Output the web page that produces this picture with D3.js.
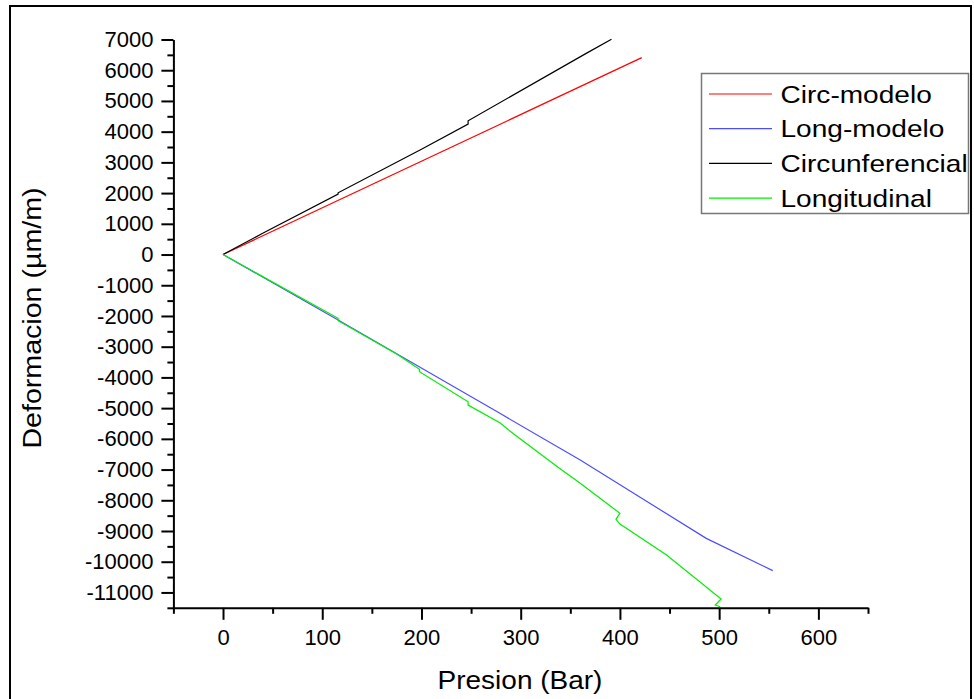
<!DOCTYPE html>
<html>
<head>
<meta charset="utf-8">
<script src="https://cdn.jsdelivr.net/npm/d3@7"></script>
<style>
  body { margin: 0; background: #fff; }
  svg { display: block; font-family: "Liberation Sans", Arial, sans-serif; }
</style>
</head>
<body>
<svg id="chart" width="974" height="699"></svg>
<script>
// Data (pressure in Bar, strain in µm/m)
const circModeloP = [0, 422]
const circModeloD = [0, 6410]

const longModeloP = [0, 116, 279, 360, 487, 554]
const longModeloD = [0, -2130, -5170, -6690, -9240, -10290]

const circunfP = [0, 40, 116, 116, 200, 247, 247, 366, 391.5]
const circunfD = [0, 690, 1969, 2010, 3425, 4248, 4355, 6549, 7005]

const longitP = [0, 116, 116, 175, 198, 198, 247, 247, 279, 292, 339, 360, 400, 396, 400, 408, 447, 502, 496, 501]
const longitD = [0, -2077, -2155, -3239, -3737, -3815, -4792, -4899, -5475, -5820, -6960, -7448, -8424, -8620, -8773, -8945, -9782, -11214, -11410, -11465]

const seriesNames = ['Circ-modelo', 'Long-modelo', 'Circunferencial', 'Longitudinal']
const seriesColors = ['#ff0000', '#4d4dff', '#000000', '#00ee00']

const xMajorTicks = d3.range(0, 601, 100)
const xMinorTicks = d3.range(-50, 651, 100)
const yMajorTicks = d3.range(-11000, 7001, 1000)
const yMinorTicks = d3.range(-11500, 6501, 1000)

const series = [
  { p: circModeloP, d: circModeloD },
  { p: longModeloP, d: longModeloD },
  { p: circunfP, d: circunfD },
  { p: longitP, d: longitD }
].map((s, i) => ({
  name: seriesNames[i],
  color: seriesColors[i],
  points: s.p.map((v, j) => [v, s.d[j]])
}))

const svg = d3.select('#chart')

// outer frame
svg.append('rect')
  .attr('x', 10).attr('y', 6)
  .attr('width', 961).attr('height', 700)
  .attr('fill', 'none').attr('stroke', '#000').attr('stroke-width', 2)

const x = d3.scaleLinear().domain([-50, 650]).range([173.4, 868])
const y = d3.scaleLinear().domain([-11500, 7000]).range([607.8, 39.5])

// plain hyphen for negatives, like the original
const fmt = d => String(d)

// minor ticks
svg.append('g')
  .attr('transform', `translate(0,${y.range()[0]})`)
  .call(d3.axisBottom(x).tickValues(xMinorTicks).tickSize(6).tickSizeOuter(0).tickFormat(''))
  .call(g => g.select('.domain').remove())
svg.append('g')
  .attr('transform', `translate(${x.range()[0]},0)`)
  .call(d3.axisLeft(y).tickValues(yMinorTicks).tickSize(6).tickSizeOuter(0).tickFormat(''))
  .call(g => g.select('.domain').remove())

// major ticks + labels
svg.append('g')
  .attr('transform', `translate(0,${y.range()[0]})`)
  .call(d3.axisBottom(x).tickValues(xMajorTicks).tickSize(12).tickSizeOuter(0).tickPadding(10).tickFormat(fmt))
svg.append('g')
  .attr('transform', `translate(${x.range()[0]},0)`)
  .call(d3.axisLeft(y).tickValues(yMajorTicks).tickSize(12).tickSizeOuter(0).tickPadding(8).tickFormat(fmt))

svg.selectAll('.tick line').attr('stroke', '#000').attr('stroke-width', 2)
svg.selectAll('.domain').attr('stroke', '#000').attr('stroke-width', 2)
svg.selectAll('.tick text')
  .attr('font-family', '"Liberation Sans", Arial, sans-serif')
  .attr('font-size', 22)
  .attr('fill', '#000')

// lines
const line = d3.line().x(d => x(d[0])).y(d => y(d[1]))
svg.append('g').selectAll('path')
  .data(series)
  .enter()
  .append('path')
  .attr('d', d => line(d.points))
  .attr('fill', 'none')
  .attr('stroke', d => d.color)
  .attr('stroke-width', 1.2)

// axis titles
svg.append('text')
  .attr('transform', 'translate(520,689) scale(1.12,1)')
  .attr('text-anchor', 'middle')
  .attr('font-size', 25)
  .text('Presion (Bar)')

svg.append('text')
  .attr('transform', 'translate(41,318) rotate(-90) scale(1.1,1)')
  .attr('text-anchor', 'middle')
  .attr('font-size', 26)
  .text('Deformacion (\u00b5m/m)')

// legend
const legend = svg.append('g')
legend.append('rect')
  .attr('x', 701.5).attr('y', 73.5)
  .attr('width', 267).attr('height', 140)
  .attr('fill', '#fff').attr('stroke', '#777').attr('stroke-width', 1.5)

const item = legend.selectAll('g.item')
  .data(series)
  .enter()
  .append('g')
  .attr('class', 'item')
  .attr('transform', (d, i) => `translate(0,${94 + i * 34.7})`)

item.append('line')
  .attr('x1', 709).attr('x2', 772)
  .attr('stroke', d => d.color).attr('stroke-width', 1.2)

item.append('text')
  .attr('transform', 'translate(780.5,8.6) scale(1.17,1)')
  .attr('font-size', 24)
  .text(d => d.name)
</script>
</body>
</html>
